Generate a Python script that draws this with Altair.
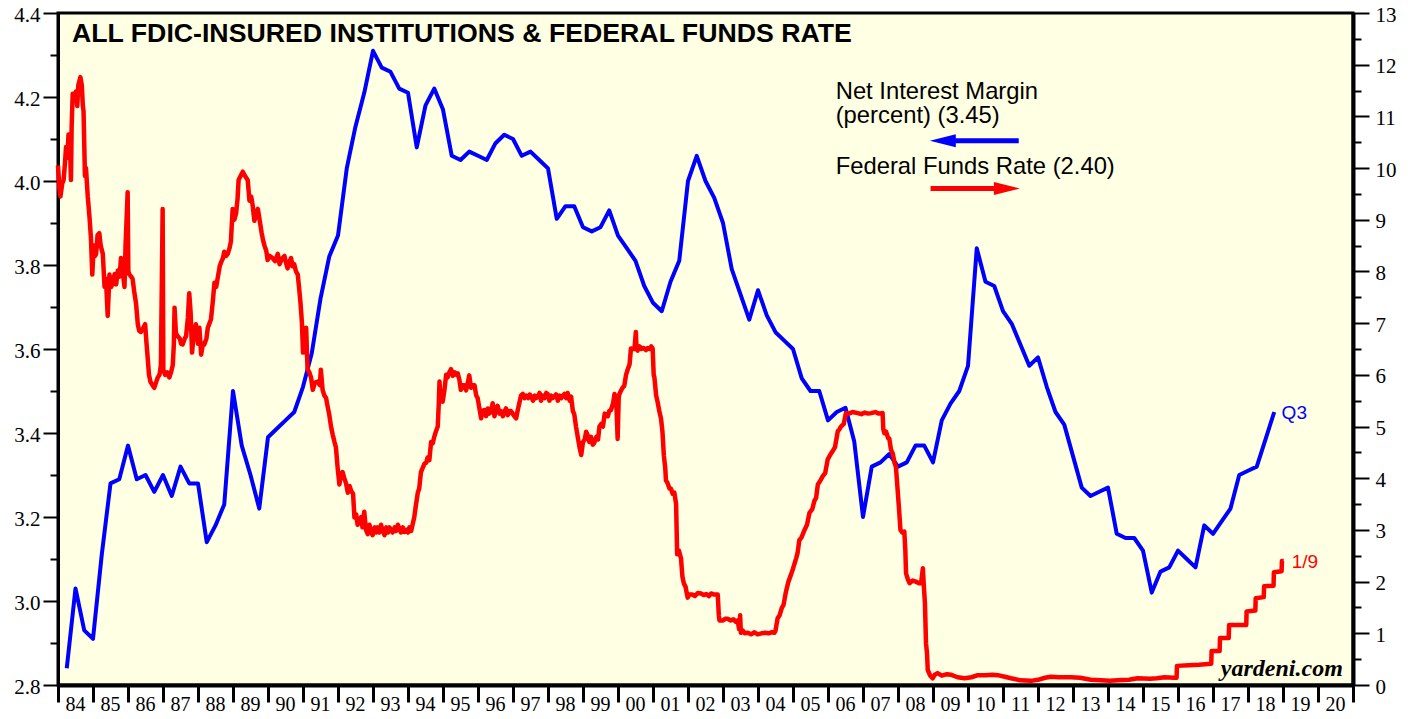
import altair as alt
import pandas as pd

# ---------------- data ----------------
title_text = "ALL FDIC-INSURED INSTITUTIONS & FEDERAL FUNDS RATE"

# Net interest margin (percent), quarterly 1984Q1 .. 2018Q3
nim_start_year = 1984
nim_values = [
    2.84, 3.03, 2.93, 2.91,   # 1984
    3.11, 3.28, 3.29, 3.37,   # 1985
    3.29, 3.30, 3.26, 3.30,   # 1986
    3.25, 3.32, 3.28, 3.28,   # 1987
    3.14, 3.18, 3.23, 3.50,   # 1988
    3.37, 3.30, 3.22, 3.39,   # 1989
    3.41, 3.43, 3.45, 3.51,   # 1990
    3.59, 3.72, 3.82, 3.87,   # 1991
    4.03, 4.13, 4.21, 4.31,   # 1992
    4.27, 4.26, 4.22, 4.21,   # 1993
    4.08, 4.18, 4.22, 4.17,   # 1994
    4.06, 4.05, 4.07, 4.06,   # 1995
    4.05, 4.09, 4.11, 4.10,   # 1996
    4.06, 4.07, 4.05, 4.03,   # 1997
    3.91, 3.94, 3.94, 3.89,   # 1998
    3.88, 3.89, 3.93, 3.87,   # 1999
    3.84, 3.81, 3.75, 3.71,   # 2000
    3.69, 3.76, 3.81, 4.00,   # 2001
    4.06, 4.00, 3.96, 3.90,   # 2002
    3.79, 3.73, 3.67, 3.74,   # 2003
    3.68, 3.64, 3.62, 3.60,   # 2004
    3.53, 3.50, 3.50, 3.43,   # 2005
    3.45, 3.46, 3.38, 3.20,   # 2006
    3.32, 3.33, 3.35, 3.32,   # 2007
    3.33, 3.37, 3.37, 3.33,   # 2008
    3.43, 3.47, 3.50, 3.56,   # 2009
    3.84, 3.76, 3.75, 3.69,   # 2010
    3.66, 3.61, 3.56, 3.58,   # 2011
    3.51, 3.45, 3.42, 3.345,  # 2012
    3.27, 3.25, 3.26, 3.27,   # 2013
    3.16, 3.15, 3.15, 3.12,   # 2014
    3.02, 3.07, 3.08, 3.12,   # 2015
    3.10, 3.08, 3.18, 3.16,   # 2016
    3.19, 3.22, 3.30, 3.31,   # 2017
    3.32, 3.385, 3.45,        # 2018
]

# Federal funds rate (percent): decimal year, value
ff_time = [
    1984.00, 1984.04, 1984.07, 1984.12, 1984.16, 1984.20, 1984.23, 1984.27, 1984.30, 1984.34,
    1984.37, 1984.39, 1984.42, 1984.46, 1984.51, 1984.55, 1984.58, 1984.64, 1984.68, 1984.71,
    1984.73, 1984.77, 1984.80, 1984.85, 1984.90, 1984.94, 1984.98, 1985.02, 1985.06, 1985.09,
    1985.13, 1985.18, 1985.22, 1985.28, 1985.33, 1985.37, 1985.42, 1985.47, 1985.52, 1985.56,
    1985.62, 1985.66, 1985.71, 1985.76, 1985.80, 1985.85, 1985.90, 1985.93, 1985.99, 1986.01,
    1986.04, 1986.09, 1986.13, 1986.18, 1986.23, 1986.28, 1986.32, 1986.37, 1986.43, 1986.49,
    1986.53, 1986.56, 1986.60, 1986.64, 1986.70, 1986.75, 1986.80, 1986.85, 1986.90, 1986.94,
    1986.99, 1987.01, 1987.06, 1987.12, 1987.18, 1987.23, 1987.28, 1987.31, 1987.33, 1987.37,
    1987.42, 1987.48, 1987.52, 1987.56, 1987.62, 1987.66, 1987.71, 1987.75, 1987.79, 1987.83,
    1987.88, 1987.94, 1988.00, 1988.04, 1988.09, 1988.14, 1988.18, 1988.24, 1988.28, 1988.33,
    1988.37, 1988.42, 1988.47, 1988.52, 1988.56, 1988.62, 1988.66, 1988.71, 1988.75, 1988.80,
    1988.85, 1988.90, 1988.94, 1988.99, 1989.04, 1989.09, 1989.13, 1989.16, 1989.22, 1989.28,
    1989.34, 1989.42, 1989.47, 1989.52, 1989.56, 1989.61, 1989.66, 1989.71, 1989.76, 1989.82,
    1989.86, 1989.90, 1989.95, 1989.99, 1990.05, 1990.13, 1990.20, 1990.28, 1990.33, 1990.40,
    1990.47, 1990.52, 1990.56, 1990.62, 1990.66, 1990.70, 1990.75, 1990.80, 1990.85, 1990.90,
    1990.93, 1990.97, 1991.00, 1991.05, 1991.09, 1991.13, 1991.18, 1991.23, 1991.28, 1991.34,
    1991.42, 1991.48, 1991.51, 1991.56, 1991.61, 1991.66, 1991.70, 1991.75, 1991.80, 1991.85,
    1991.90, 1991.94, 1991.99, 1992.04, 1992.08, 1992.13, 1992.18, 1992.23, 1992.28, 1992.33,
    1992.38, 1992.43, 1992.47, 1992.52, 1992.56, 1992.61, 1992.66, 1992.70, 1992.75, 1992.80,
    1992.85, 1992.90, 1992.95, 1992.99, 1993.05, 1993.09, 1993.13, 1993.18, 1993.23, 1993.28,
    1993.33, 1993.38, 1993.43, 1993.47, 1993.51, 1993.56, 1993.62, 1993.66, 1993.71, 1993.75,
    1993.80, 1993.85, 1993.90, 1993.95, 1994.00, 1994.04, 1994.09, 1994.13, 1994.18, 1994.22,
    1994.28, 1994.32, 1994.37, 1994.42, 1994.47, 1994.52, 1994.56, 1994.61, 1994.66, 1994.71,
    1994.75, 1994.80, 1994.85, 1994.88, 1994.90, 1994.93, 1994.96, 1994.99, 1995.04, 1995.09,
    1995.13, 1995.18, 1995.23, 1995.28, 1995.33, 1995.38, 1995.42, 1995.47, 1995.51, 1995.56,
    1995.61, 1995.66, 1995.71, 1995.75, 1995.80, 1995.85, 1995.90, 1995.95, 1995.99, 1996.04,
    1996.09, 1996.13, 1996.18, 1996.23, 1996.28, 1996.32, 1996.37, 1996.42, 1996.47, 1996.52,
    1996.56, 1996.61, 1996.66, 1996.71, 1996.75, 1996.80, 1996.85, 1996.90, 1996.94, 1996.99,
    1997.04, 1997.09, 1997.13, 1997.18, 1997.23, 1997.28, 1997.33, 1997.38, 1997.43, 1997.48,
    1997.52, 1997.57, 1997.62, 1997.66, 1997.71, 1997.76, 1997.80, 1997.85, 1997.90, 1997.95,
    1997.99, 1998.04, 1998.09, 1998.13, 1998.18, 1998.23, 1998.28, 1998.33, 1998.38, 1998.43,
    1998.47, 1998.52, 1998.56, 1998.62, 1998.66, 1998.71, 1998.75, 1998.80, 1998.85, 1998.90,
    1998.95, 1999.00, 1999.05, 1999.09, 1999.13, 1999.18, 1999.23, 1999.28, 1999.32, 1999.38,
    1999.43, 1999.47, 1999.52, 1999.57, 1999.62, 1999.66, 1999.71, 1999.75, 1999.80, 1999.86,
    1999.90, 1999.95, 1999.99, 2000.02, 2000.04, 2000.09, 2000.13, 2000.18, 2000.23, 2000.28,
    2000.33, 2000.37, 2000.42, 2000.47, 2000.51, 2000.53, 2000.56, 2000.62, 2000.66, 2000.71,
    2000.75, 2000.80, 2000.85, 2000.90, 2000.95, 2000.99, 2001.02, 2001.04, 2001.09, 2001.13,
    2001.18, 2001.23, 2001.27, 2001.31, 2001.35, 2001.37, 2001.42, 2001.47, 2001.51, 2001.56,
    2001.61, 2001.66, 2001.69, 2001.74, 2001.80, 2001.84, 2001.88, 2001.93, 2001.99, 2002.04,
    2002.13, 2002.20, 2002.28, 2002.37, 2002.45, 2002.52, 2002.60, 2002.66, 2002.75, 2002.85,
    2002.88, 2002.90, 2003.00, 2003.06, 2003.13, 2003.22, 2003.30, 2003.37, 2003.42, 2003.46,
    2003.49, 2003.51, 2003.57, 2003.62, 2003.71, 2003.80, 2003.90, 2003.99, 2004.10, 2004.20,
    2004.30, 2004.40, 2004.47, 2004.50, 2004.56, 2004.62, 2004.68, 2004.73, 2004.80, 2004.87,
    2004.94, 2005.00, 2005.09, 2005.13, 2005.18, 2005.24, 2005.33, 2005.40, 2005.47, 2005.55,
    2005.61, 2005.66, 2005.71, 2005.78, 2005.85, 2005.92, 2005.99, 2006.06, 2006.13, 2006.20,
    2006.28, 2006.33, 2006.37, 2006.45, 2006.51, 2006.60, 2006.70, 2006.85, 2006.95, 2007.05,
    2007.15, 2007.23, 2007.35, 2007.45, 2007.56, 2007.58, 2007.61, 2007.66, 2007.72, 2007.75,
    2007.80, 2007.85, 2007.90, 2007.94, 2007.99, 2008.03, 2008.07, 2008.12, 2008.18, 2008.21,
    2008.23, 2008.28, 2008.33, 2008.42, 2008.51, 2008.60, 2008.66, 2008.71, 2008.74, 2008.77,
    2008.80, 2008.83, 2008.85, 2008.92, 2008.99, 2009.05, 2009.13, 2009.25, 2009.40, 2009.51,
    2009.70, 2009.90, 2010.10, 2010.28, 2010.50, 2010.70, 2010.85, 2011.05, 2011.23, 2011.50,
    2011.80, 2012.00, 2012.20, 2012.37, 2012.60, 2012.94, 2013.20, 2013.51, 2013.80, 2014.05,
    2014.28, 2014.60, 2014.85, 2015.20, 2015.40, 2015.61, 2015.90, 2015.96, 2015.97, 2016.30,
    2016.60, 2016.95, 2016.96, 2017.19, 2017.20, 2017.45, 2017.46, 2017.70, 2017.95, 2017.96,
    2018.21, 2018.22, 2018.45, 2018.46, 2018.73, 2018.74, 2018.96, 2018.97, 2019.02,
]
ff_value = [
    10.05, 9.60, 9.45, 9.70, 9.77, 10.10, 10.41, 10.20, 10.65, 10.50,
    9.77, 10.80, 11.44, 11.30, 11.48, 11.20, 11.60, 11.76, 11.60, 11.20,
    11.10, 9.85, 10.00, 9.45, 9.05, 8.66, 7.94, 8.50, 8.30, 8.34,
    8.70, 8.74, 8.50, 8.34, 7.70, 7.86, 7.14, 7.94, 7.70, 7.78,
    7.95, 7.75, 8.02, 7.90, 8.26, 8.00, 7.70, 8.50, 9.53, 8.00,
    7.94, 7.90, 7.86, 7.60, 7.38, 6.98, 6.85, 6.83, 6.90, 6.98,
    6.60, 6.35, 6.00, 5.87, 5.80, 5.75, 5.85, 5.95, 6.00, 6.19,
    9.21, 6.10, 6.00, 6.05, 5.95, 6.05, 6.19, 6.60, 7.30, 6.80,
    6.75, 6.70, 6.60, 6.59, 6.70, 6.75, 7.10, 7.58, 7.20, 6.43,
    6.80, 6.98, 6.60, 6.91, 6.39, 6.60, 6.59, 6.70, 6.91, 7.00,
    7.07, 7.40, 7.78, 7.70, 7.86, 8.10, 8.18, 8.25, 8.38, 8.30,
    8.34, 8.45, 8.58, 9.21, 9.00, 9.13, 9.40, 9.77, 9.85, 9.93,
    9.85, 9.77, 9.37, 9.45, 9.29, 8.98, 9.10, 9.21, 9.00, 8.74,
    8.60, 8.50, 8.40, 8.22, 8.30, 8.26, 8.20, 8.34, 8.14, 8.25,
    8.30, 8.15, 8.06, 8.20, 8.26, 8.10, 8.14, 8.00, 7.94, 7.60,
    7.38, 7.00, 6.43, 6.70, 6.91, 6.11, 6.05, 5.95, 5.71, 5.85,
    5.87, 5.80, 6.10, 5.71, 5.60, 5.55, 5.40, 5.23, 5.00, 4.84,
    4.70, 4.60, 4.20, 3.88, 4.05, 4.12, 4.00, 3.90, 3.72, 3.85,
    3.75, 3.70, 3.24, 3.30, 3.10, 3.15, 3.25, 3.05, 3.35, 3.00,
    2.92, 3.10, 2.95, 2.90, 3.05, 2.95, 3.05, 2.95, 3.10, 2.98,
    2.90, 3.05, 2.95, 3.05, 3.00, 2.95, 3.05, 2.98, 3.10, 3.03,
    2.95, 3.05, 2.96, 3.00, 2.95, 3.05, 2.98, 3.10, 3.25, 3.45,
    3.72, 3.80, 4.12, 4.20, 4.28, 4.30, 4.40, 4.35, 4.70, 4.68,
    4.80, 4.91, 5.00, 5.45, 5.87, 5.50, 5.60, 5.48, 5.70, 6.00,
    5.95, 6.05, 6.11, 5.98, 6.05, 6.00, 6.03, 5.90, 5.71, 5.80,
    5.80, 5.70, 5.85, 5.99, 5.75, 5.80, 5.80, 5.60, 5.55, 5.35,
    5.16, 5.30, 5.32, 5.20, 5.35, 5.25, 5.28, 5.45, 5.20, 5.35,
    5.40, 5.25, 5.30, 5.20, 5.28, 5.35, 5.22, 5.30, 5.30, 5.25,
    5.20, 5.16, 5.30, 5.45, 5.60, 5.63, 5.55, 5.60, 5.55, 5.62,
    5.58, 5.50, 5.60, 5.55, 5.58, 5.65, 5.50, 5.60, 5.55, 5.65,
    5.63, 5.50, 5.60, 5.55, 5.58, 5.62, 5.50, 5.60, 5.55, 5.60,
    5.63, 5.55, 5.65, 5.50, 5.58, 5.30, 5.24, 5.00, 4.80, 4.60,
    4.45, 4.70, 4.75, 4.90, 4.84, 4.70, 4.80, 4.65, 4.68, 4.80,
    4.75, 5.00, 5.05, 5.00, 5.25, 5.23, 5.20, 5.30, 5.32, 5.45,
    5.63, 5.50, 4.76, 5.55, 5.63, 5.70, 5.75, 5.79, 6.00, 6.11,
    6.20, 6.51, 6.50, 6.50, 6.83, 6.50, 6.47, 6.55, 6.50, 6.52,
    6.51, 6.48, 6.52, 6.50, 6.55, 6.51, 6.00, 5.95, 5.60, 5.48,
    5.30, 5.15, 4.90, 4.44, 4.20, 3.96, 3.90, 3.80, 3.80, 3.70,
    3.72, 3.50, 2.53, 2.60, 2.45, 2.10, 1.97, 1.90, 1.69, 1.75,
    1.75, 1.72, 1.78, 1.77, 1.74, 1.76, 1.72, 1.77, 1.75, 1.75,
    1.35, 1.25, 1.25, 1.28, 1.28, 1.25, 1.27, 1.22, 1.25, 1.08,
    1.35, 1.01, 1.05, 1.00, 1.01, 0.98, 1.02, 0.98, 1.00, 1.01,
    1.00, 1.02, 1.01, 1.05, 1.29, 1.35, 1.49, 1.55, 1.81, 2.00,
    2.13, 2.25, 2.45, 2.55, 2.80, 2.85, 3.00, 3.10, 3.33, 3.40,
    3.56, 3.62, 3.88, 3.95, 4.04, 4.10, 4.36, 4.45, 4.52, 4.60,
    4.91, 4.95, 5.00, 5.05, 5.26, 5.25, 5.28, 5.26, 5.24, 5.27,
    5.25, 5.26, 5.28, 5.25, 5.26, 4.95, 4.87, 4.90, 4.77, 4.77,
    4.55, 4.48, 4.30, 4.22, 3.77, 3.40, 3.00, 2.95, 2.97, 2.60,
    2.16, 2.05, 1.97, 2.02, 2.00, 1.97, 1.97, 2.26, 1.90, 1.58,
    0.81, 0.60, 0.29, 0.18, 0.13, 0.20, 0.23, 0.18, 0.21, 0.20,
    0.15, 0.13, 0.15, 0.19, 0.19, 0.20, 0.19, 0.16, 0.13, 0.09,
    0.08, 0.10, 0.14, 0.16, 0.15, 0.15, 0.14, 0.10, 0.09, 0.08,
    0.09, 0.10, 0.13, 0.12, 0.13, 0.15, 0.14, 0.14, 0.37, 0.38,
    0.39, 0.41, 0.66, 0.66, 0.91, 0.91, 1.16, 1.16, 1.16, 1.42,
    1.44, 1.68, 1.70, 1.91, 1.92, 2.18, 2.20, 2.40, 2.40,
]

nim_ticks_major = [2.8, 3.0, 3.2, 3.4, 3.6, 3.8, 4.0, 4.2, 4.4]
nim_ticks_minor = [2.9, 3.1, 3.3, 3.5, 3.7, 3.9, 4.1, 4.3]
ff_ticks_major = list(range(0, 14))
ff_ticks_minor = [v + 0.5 for v in range(0, 13)]
year_ticks = list(range(1984, 2022))

# annotations (placed in data coordinates: decimal year, NIM-scale value)
legend_lines = ["Net Interest Margin", "(percent) (3.45)", "Federal Funds Rate (2.40)"]
legend_t = [2006.22, 2006.22, 2006.22]
legend_y = [4.195, 4.138, 4.016]
arrow_color = ["#0000FF", "#FF0000"]
arrow_t1 = [2009.48, 2008.93]
arrow_t2 = [2011.45, 2010.92]
arrow_y = [4.096, 3.982]
head_t = [2009.28, 2011.11]
head_shape = ["M -1 0 L 1 -0.5 L 1 0.5 Z", "M 1 0 L -1 -0.5 L -1 0.5 Z"]
end_labels = ["Q3", "1/9"]
end_t = [2018.96, 2019.25]
end_y = [3.448, 3.093]
end_color = ["#0000FF", "#FF0000"]

# ---------------- frames ----------------
nim_df = pd.DataFrame({
    "t": [nim_start_year + 0.25 * (i + 1) for i in range(len(nim_values))],
    "nim": nim_values,
})
ff_df = pd.DataFrame({"t": ff_time, "ff": ff_value})
title_df = pd.DataFrame({"t": [1984.40], "y": [4.331], "label": [title_text]})
legend_df = pd.DataFrame({"t": legend_t, "y": legend_y, "label": legend_lines})
arrow_df = pd.DataFrame({"t": arrow_t1, "t2": arrow_t2, "y": arrow_y, "c": arrow_color})
head_df = pd.DataFrame({"t": head_t, "y": arrow_y, "c": arrow_color, "s": head_shape})
end_df = pd.DataFrame({"t": end_t, "y": end_y, "label": end_labels, "c": end_color})
yard_df = pd.DataFrame({"t": [2020.71], "y": [2.8214], "label": ["yardeni.com"]})

# ---------------- encodings ----------------
x_scale = alt.Scale(domain=[1984, 2021], nice=False, zero=False)
x_axis = alt.Axis(
    orient="bottom", values=year_ticks,
    labelExpr="datum.value >= 2021 ? '' : format(datum.value % 100, '02d')",
    labelOffset=17, labelAlign="center", labelFont="Liberation Serif",
    labelFontSize=20, labelColor="black", labelPadding=-8, labelFlush=False,
    labelOverlap=False, tickSize=17, tickWidth=3, tickColor="black",
    domainColor="black", domainWidth=4, grid=False, title=None,
)
X = alt.X("t:Q", scale=x_scale, axis=x_axis)

nim_scale = alt.Scale(domain=[2.8, 4.4], nice=False, zero=False)
ff_scale = alt.Scale(domain=[0, 13], nice=False, zero=False)

common_axis = dict(grid=False, title=None, tickColor="black", domainColor="black",
                   labelFont="Liberation Serif", labelFontSize=21, labelColor="black",
                   labelFlush=False, labelOffset=2)

nim_line = alt.Chart(nim_df).mark_line(color="#0000FF", strokeWidth=4, strokeJoin="round").encode(
    x=X,
    y=alt.Y("nim:Q", scale=nim_scale, axis=alt.Axis(
        orient="left", values=nim_ticks_major, format=".1f", tickSize=15, tickWidth=2,
        domainWidth=3, labelPadding=3, **common_axis)),
)
nim_minor = alt.Chart(nim_df).mark_line(opacity=0).encode(
    x=X,
    y=alt.Y("nim:Q", scale=nim_scale, axis=alt.Axis(
        orient="left", values=nim_ticks_minor, labels=False, domain=False,
        tickSize=8, tickWidth=2, grid=False, title=None, tickColor="black")),
)
ff_line = alt.Chart(ff_df).mark_line(color="#FF0000", strokeWidth=4.5, strokeJoin="round").encode(
    x=X,
    y=alt.Y("ff:Q", scale=ff_scale, axis=alt.Axis(
        orient="right", values=ff_ticks_major, format="d", tickSize=16, tickWidth=2,
        domainWidth=4, labelPadding=6, **common_axis)),
)
ff_minor = alt.Chart(ff_df).mark_line(opacity=0).encode(
    x=X,
    y=alt.Y("ff:Q", scale=ff_scale, axis=alt.Axis(
        orient="right", values=ff_ticks_minor, labels=False, domain=False,
        tickSize=8, tickWidth=2, grid=False, title=None, tickColor="black")),
)

Ya = alt.Y("y:Q", scale=nim_scale, axis=None)

title_layer = alt.Chart(title_df).mark_text(
    align="left", baseline="alphabetic", font="Liberation Sans", fontSize=26.7,
    fontWeight="bold", color="black").encode(x=X, y=Ya, text="label:N")
legend_layer = alt.Chart(legend_df).mark_text(
    align="left", baseline="alphabetic", font="Liberation Sans", fontSize=23.8,
    color="black").encode(x=X, y=Ya, text="label:N")
shaft_layer = alt.Chart(arrow_df).mark_rule(strokeWidth=5).encode(
    x=X, x2="t2:Q", y=Ya, color=alt.Color("c:N", scale=None))
head_layer = alt.Chart(head_df).mark_point(filled=True, opacity=1, size=676, strokeWidth=0).encode(
    x=X, y=Ya, color=alt.Color("c:N", scale=None), shape=alt.Shape("s:N", scale=None))
end_layer = alt.Chart(end_df).mark_text(
    align="left", baseline="middle", font="Liberation Sans", fontSize=19).encode(
    x=X, y=Ya, text="label:N", color=alt.Color("c:N", scale=None))
yard_layer = alt.Chart(yard_df).mark_text(
    align="right", baseline="alphabetic", font="Liberation Serif", fontSize=24,
    fontWeight="bold", fontStyle="italic", color="black").encode(x=X, y=Ya, text="label:N")

chart = alt.layer(
    nim_line, nim_minor, ff_line, ff_minor,
    title_layer, legend_layer, shaft_layer, head_layer, end_layer, yard_layer,
).resolve_scale(y="independent").properties(
    width=1295, height=672,
    autosize=alt.AutoSizeParams(type="none"),
    padding={"left": 50, "top": 5, "right": 45, "bottom": 32},
    background="white",
).configure_view(fill="#FFFFE3", stroke="black", strokeWidth=3)

chart.save("out.html", embed_options={"renderer": "svg", "actions": False})
